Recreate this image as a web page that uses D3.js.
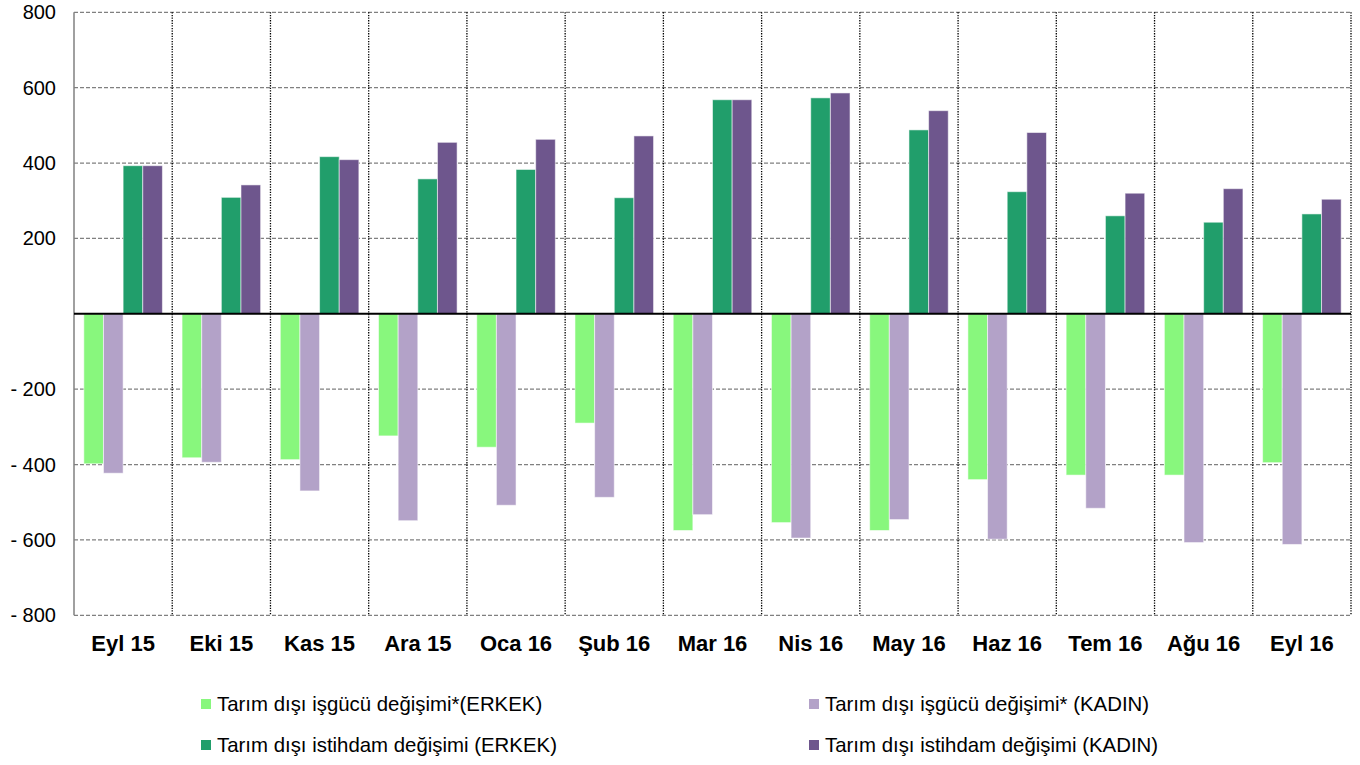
<!DOCTYPE html>
<html lang="tr">
<head>
<meta charset="UTF-8">
<title>Tarım dışı işgücü ve istihdam değişimi</title>
<script src="https://d3js.org/d3.v7.min.js"></script>
<style>
    body { margin: 0; background: #fff; }
    svg { display: block; font-family: 'Liberation Sans', Arial, sans-serif; }
    .ytick { font-size: 20px; fill: #000; }
    .xtick { font-size: 22px; font-weight: bold; fill: #000; }
    .legend text { font-size: 20.4px; fill: #000; }
</style>
</head>
<body>
<svg id="chart" width="1360" height="765"></svg>
<script>
    // aylar
    const months = ['Eyl 15', 'Eki 15', 'Kas 15', 'Ara 15', 'Oca 16', 'Şub 16', 'Mar 16',
                    'Nis 16', 'May 16', 'Haz 16', 'Tem 16', 'Ağu 16', 'Eyl 16'];

    // bin kişi
    const isgucuErkek   = [-398, -382, -387, -324, -354, -290, -575, -554, -575, -440, -428, -428, -395];
    const isgucuKadin   = [-423, -394, -470, -549, -508, -487, -533, -595, -546, -598, -516, -607, -612];
    const istihdamErkek = [393, 309, 417, 358, 383, 308, 568, 573, 488, 324, 260, 243, 265];
    const istihdamKadin = [393, 342, 409, 455, 463, 472, 568, 586, 539, 481, 320, 332, 304];

    const yTicks = [-800, -600, -400, -200, 200, 400, 600, 800];

    const series = [
        { key: 'igE', name: 'Tarım dışı işgücü değişimi*(ERKEK)', values: isgucuErkek, color: '#88f77d' },
        { key: 'igK', name: 'Tarım dışı işgücü değişimi* (KADIN)', values: isgucuKadin, color: '#b3a2c8' },
        { key: 'isE', name: 'Tarım dışı istihdam değişimi (ERKEK)', values: istihdamErkek, color: '#219e6b' },
        { key: 'isK', name: 'Tarım dışı istihdam değişimi (KADIN)', values: istihdamKadin, color: '#6e568d' }
    ];

    const svg = d3.select('#chart');
    const plotL = 74, plotR = 1351, plotT = 12.3, plotB = 615.3;

    const x = d3.scaleBand().domain(months).range([plotL, plotR]).padding(0);
    const x1 = d3.scaleBand().domain(series.map(s => s.key))
        .range([0, x.bandwidth()]).paddingInner(0).paddingOuter(0.5);
    const y = d3.scaleLinear().domain([-800, 800]).range([plotB, plotT]);

    // yatay kesikli çizgiler
    svg.append('g').selectAll('line')
        .data(yTicks)
        .join('line')
        .attr('x1', plotL).attr('x2', plotR)
        .attr('y1', d => y(d)).attr('y2', d => y(d))
        .attr('stroke', '#808080')
        .attr('stroke-width', 1.3)
        .attr('stroke-dasharray', '4,2');

    // dikey noktalı çizgiler (ay sınırları)
    svg.append('g').selectAll('line')
        .data(months)
        .join('line')
        .attr('x1', d => x(d) + x.bandwidth()).attr('x2', d => x(d) + x.bandwidth())
        .attr('y1', plotT).attr('y2', plotB)
        .attr('stroke', '#000')
        .attr('stroke-width', 1.3)
        .attr('stroke-dasharray', '1.3,1.3');

    // sol eksen
    svg.append('line')
        .attr('x1', plotL).attr('x2', plotL)
        .attr('y1', plotT).attr('y2', plotB)
        .attr('stroke', '#808080')
        .attr('stroke-width', 1.5);

    // çubuklar
    const groups = svg.append('g').selectAll('g')
        .data(series)
        .join('g')
        .attr('fill', s => s.color);

    groups.selectAll('rect')
        .data(s => s.values.map((v, i) => ({ key: s.key, month: months[i], value: v })))
        .join('rect')
        .attr('x', d => x(d.month) + x1(d.key))
        .attr('width', x1.bandwidth())
        .attr('y', d => y(Math.max(0, d.value)))
        .attr('height', d => Math.abs(y(d.value) - y(0)))
        .attr('stroke', 'rgba(255,255,255,0.55)')
        .attr('stroke-width', 1);

    // sıfır çizgisi
    svg.append('line')
        .attr('x1', plotL).attr('x2', plotR)
        .attr('y1', y(0)).attr('y2', y(0))
        .attr('stroke', '#000')
        .attr('stroke-width', 2);

    // y etiketleri
    svg.append('g').selectAll('text')
        .data(yTicks)
        .join('text')
        .attr('class', 'ytick')
        .attr('x', 56)
        .attr('y', d => y(d))
        .attr('dy', '0.35em')
        .attr('text-anchor', 'end')
        .text(d => d < 0 ? '- ' + Math.abs(d) : d);

    // x etiketleri
    svg.append('g').selectAll('text')
        .data(months)
        .join('text')
        .attr('class', 'xtick')
        .attr('x', d => x(d) + x.bandwidth() / 2)
        .attr('y', 651)
        .attr('text-anchor', 'middle')
        .text(d => d);

    // gösterge
    const legendPos = [[201, 704], [809, 704], [201, 745], [809, 745]];
    const legend = svg.append('g').attr('class', 'legend')
        .selectAll('g')
        .data(series)
        .join('g')
        .attr('transform', (d, i) => `translate(${legendPos[i][0]},${legendPos[i][1]})`);

    legend.append('rect')
        .attr('x', 0).attr('y', -5)
        .attr('width', 10).attr('height', 10)
        .attr('fill', d => d.color);

    legend.append('text')
        .attr('x', 16)
        .attr('dy', '0.35em')
        .text(d => d.name);
</script>
</body>
</html>
